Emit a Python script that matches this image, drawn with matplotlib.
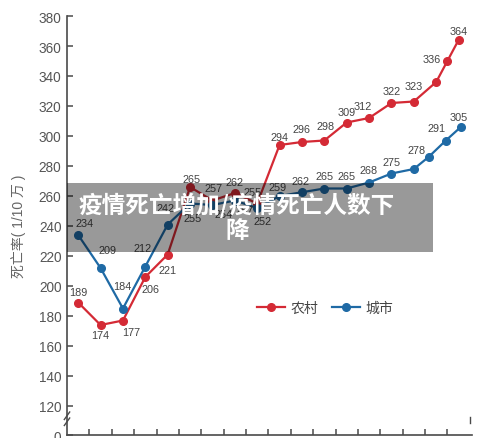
import matplotlib
matplotlib.use('Agg')
import matplotlib.pyplot as plt
from matplotlib.patches import Rectangle

plt.rcParams['font.family'] = ['Liberation Sans', 'Noto Sans CJK SC', 'DejaVu Sans']

# 农村 (rural) series
rural_x = [0, 1, 2, 3, 4, 5, 6, 7, 8, 9, 10, 11, 12, 13, 14, 15, 16, 16.5, 17]
rural_y = [189, 174, 177, 206, 221, 266, 257, 262, 255, 294, 296, 297, 309, 312, 322, 323, 336, 350, 364]
rural_labels = ['189', '174', '177', '206', '221', '265', '257', '262', '255', '294', '296', '298',
                '309', '312', '322', '323', '336', '', '364']

# 城市 (urban) series
urban_x = [0, 1, 2, 3, 4, 5, 6, 7, 8, 9, 10, 11, 12, 13, 14, 15, 15.66, 16.43, 17.1]
urban_y = [234, 212, 185, 213, 241, 255, 254, 257, 252, 260, 262.5, 265, 265, 269, 275, 278, 286, 297, 306]
urban_labels = ['234', '209', '184', '212', '242', '255', '254', '257', '252', '259', '262', '265',
                '265', '268', '275', '278', '', '291', '305']

y_ticks = [120, 140, 160, 180, 200, 220, 240, 260, 280, 300, 320, 340, 360, 380]

# label offsets in pixels (dx, dy up)
rural_off = [(0, 11), (0, -10), (8, -11), (5, -12), (0, -15), (1, 8), (1, 13), (0, 11), (-5, 12),
             (0, 8), (0, 13), (1, 15), (0, 11), (-6, 12), (0, 12), (0, 16), (-4, 23), (0, 0), (0, 9)]
urban_off = [(6, 12), (7, 18), (-1, 22), (-3, 19), (-2, 16), (3, -15), (11, -9), (10, -10), (5, -13),
             (-2, 9), (-1, 11), (0, 12), (0, 12), (-1, 13), (0, 12), (3, 19), (0, 0), (-9, 13), (-2, 10)]

red = '#d42a35'
blue = '#1f6aa5'
axis_col = '#4a4a4a'
text_col = '#555555'

fig = plt.figure(figsize=(5, 4.39), dpi=100)
ax = fig.add_axes([67/500, 3/439, 405/500, 419/439])

ax.plot(rural_x, rural_y, color=red, lw=1.6, marker='o', ms=5.5, label='农村', zorder=3)
ax.plot(urban_x, urban_y, color=blue, lw=1.6, marker='o', ms=5.5, label='城市', zorder=3)

for x, y, t, o in zip(rural_x, rural_y, rural_labels, rural_off):
    if t:
        ax.annotate(t, (x, y), xytext=o, textcoords='offset pixels', ha='center', va='center',
                    fontsize=7.8, color='#444444')
for x, y, t, o in zip(urban_x, urban_y, urban_labels, urban_off):
    if t:
        ax.annotate(t, (x, y), xytext=o, textcoords='offset pixels', ha='center', va='center',
                    fontsize=7.8, color='#444444')

ybottom = 120 - 29 / 1.5
ax.set_xlim(-0.5, 17.6)
ax.set_ylim(ybottom, 380)
ax.set_yticks([ybottom] + y_ticks)
ax.set_yticklabels(['0'] + [str(v) for v in y_ticks])
ax.set_xticks([i + 0.5 for i in range(17)])
ax.set_xticklabels([])

for s in ['top', 'right']:
    ax.spines[s].set_visible(False)
for s in ['left', 'bottom']:
    ax.spines[s].set_color(axis_col)
    ax.spines[s].set_linewidth(1.2)
ax.tick_params(axis='both', direction='in', length=4, width=1.1, color=axis_col)
ax.tick_params(axis='y', labelsize=9.8, labelcolor=text_col, pad=4)

# axis break marks
ax.plot([-0.62, -0.38], [111, 116], color=axis_col, lw=1.0, clip_on=False, zorder=4)
ax.plot([-0.62, -0.38], [107, 112], color=axis_col, lw=1.0, clip_on=False, zorder=4)
ax.plot([17.5, 17.5], [109, 113], color=axis_col, lw=1.0, clip_on=False)

ax.set_ylabel('死亡率( 1/10 万 )', fontsize=10, color='#666666', labelpad=9)

ax.legend(loc='center', ncol=2, frameon=False, fontsize=10, handlelength=2.0, columnspacing=1.0,
          handletextpad=0.4, labelcolor='#444444')
leg = ax.get_legend()
leg.set_bbox_to_anchor((325/500, 1 - 309/439), transform=fig.transFigure)

# caption overlay
fig.patches.append(Rectangle((67/500, 1 - 253/439), 366/500, 69/439, transform=fig.transFigure,
                             facecolor='black', alpha=0.4, edgecolor='none', zorder=5))
fig.text(237/500, 1 - 218/439, '疫情死亡增加/疫情死亡人数下\n降', ha='center', va='center',
         fontsize=17, color='white', fontweight='bold', family=['Noto Sans CJK SC', 'DejaVu Sans'],
         linespacing=1.05, zorder=6)

fig.savefig('out.png', dpi=100)
